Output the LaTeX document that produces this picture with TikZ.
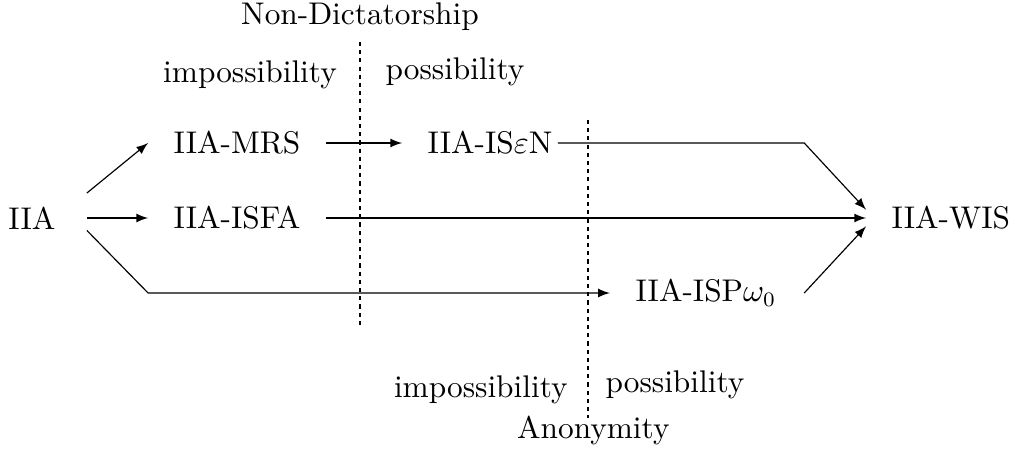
\documentclass[tikz,border=0pt]{standalone}
\usetikzlibrary{arrows}
\begin{document}
\begin{tikzpicture}[font=\fontsize{10.7}{13}\selectfont,box/.style={inner xsep=0.3cm},arr/.style={-latex},sep/.style={dash pattern=on 1.4pt off 1.4pt}]
\useasboundingbox (0,0) rectangle (12.18,5.436);

\node[box,inner xsep=0.37cm] (iia) at (0.384,2.82) {IIA};
\node[box] (mrs) at (2.844,3.72) {IIA-MRS};
\node[box] (isfa) at (2.844,2.82) {IIA-ISFA};
\node[box] (isen) at (5.88,3.72) {IIA-IS$\varepsilon$N};
\node[box] (isp) at (8.47,1.92) {IIA-ISP$\omega_0$};
\node[box] (wis) at (11.41,2.82) {IIA-WIS};

%---------------------------------

\draw[arr] ([yshift=0.3cm]iia.east) -- (mrs.west) ; 
\draw[arr] (iia.east) -- (isfa.west) ; 
\draw[arr] ([yshift=-0.15cm]iia.east) -- (isfa.west |- isp.west) -- (isp.west) ; 
\draw[arr] ([xshift=-0.24cm]isen.east) -- ([xshift=0.03cm]isp.east |- isen.east) -- ([yshift=0.1cm]wis.west) ; 
\draw[arr] (mrs.east) -- (isen.west) ; 
\draw[arr] (isfa.east) -- (wis.west) ; 
\draw[arr] ([xshift=0.03cm]isp.east) -- ([yshift=-0.1cm]wis.west) ; 

%---------------------------------

\draw[sep] (4.32,4.932) -- (4.32,1.536) ; 
\node (nd) at (4.32,5.232) {Non-Dictatorship};
\node (imp1) at (3.0,4.536) {impossibility};
\node (pos1) at (5.46,4.572) {possibility};

\draw[sep] (7.056,3.996) -- (7.056,0.42) ; 
\node (imp2) at (5.77,0.756) {impossibility};
\node (pos2) at (8.1,0.816) {possibility};
\node (anon) at (7.12,0.276) {Anonymity};

\end{tikzpicture}
\end{document}
